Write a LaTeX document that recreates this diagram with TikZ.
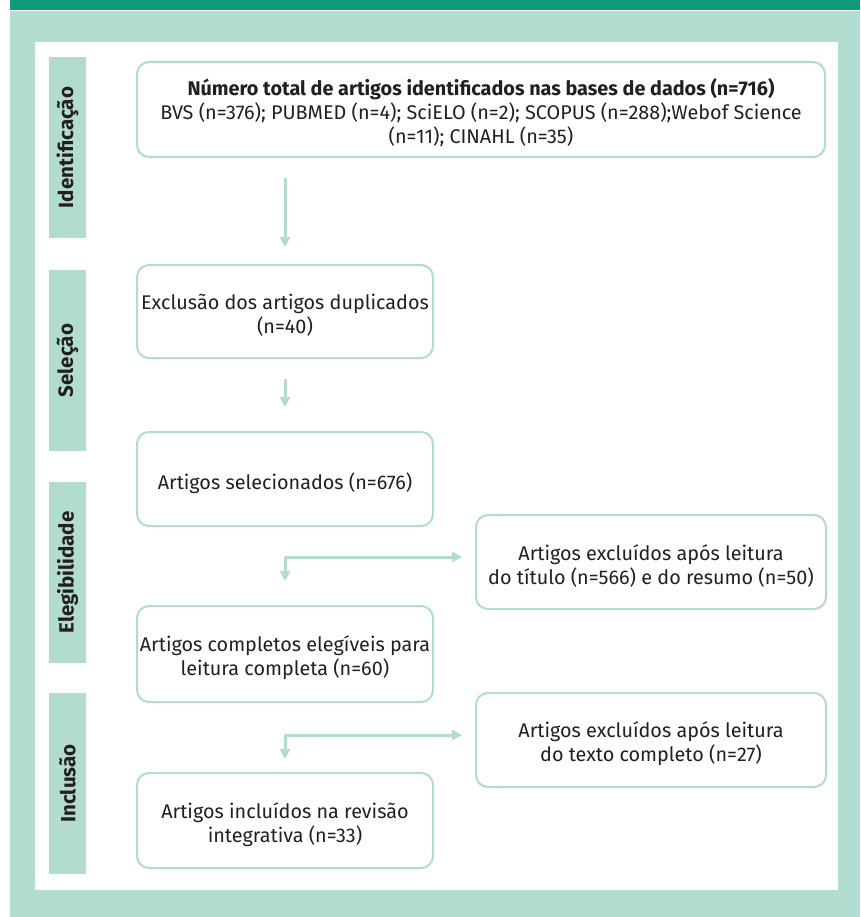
\documentclass[tikz,border=0pt]{standalone}
\usepackage{fontspec}
\setmainfont{Fira Sans}
\usetikzlibrary{arrows.meta}
\definecolor{darkgr}{HTML}{109A77}
\definecolor{lightgr}{HTML}{B2DCD0}
\definecolor{txt}{HTML}{231F20}
\begin{document}
\begin{tikzpicture}[x=1pt,y=-1pt,
  box/.style={draw=lightgr, line width=2pt, rounded corners=12pt, fill=white, inner sep=0pt},
  boxtext/.style={align=center, text=txt, font=\fontsize{19.8}{24}\selectfont, inner sep=0pt, yshift=-4pt},
  phase/.style={fill=lightgr, minimum width=37pt, inner sep=0pt},
  phaselabel/.style={rotate=90, font=\bfseries\fontsize{20.5}{22}\selectfont, text=txt},
  arr/.style={draw=lightgr, line width=3pt, -{Triangle[length=10pt,width=10pt]}}]
\useasboundingbox (0,0) rectangle (860,917);
% background
\fill[darkgr] (10,0) rectangle (860,10);
\fill[lightgr] (10,11) rectangle (860,917);
\fill[white] (35,42) rectangle (838,890);
% phase bars
\node[phase, minimum height=181pt] (p1) at (67.5,147.5) {};
\node[phaselabel] (l1) at (p1) {Identificação};
\node[phase, minimum height=181pt] (p2) at (67.5,360.5) {};
\node[phaselabel] (l2) at (p2) {Seleção};
\node[phase, minimum height=181pt] (p3) at (67.5,572.5) {};
\node[phaselabel] (l3) at (p3) {Elegibilidade};
\node[phase, minimum height=181pt] (p4) at (67.5,783.5) {};
\node[phaselabel] (l4) at (p4) {Inclusão};
% boxes
\node[box, minimum width=688pt, minimum height=95pt] (b1) at (481,109.5) {};
\node[boxtext, yshift=1pt] (t1) at (b1)
  {\textbf{Número total de artigos identificados nas bases de dados (n=716)}\\
   BVS (n=376); PUBMED (n=4); SciELO (n=2); SCOPUS (n=288);Webof Science\\
   (n=11); CINAHL (n=35)};
\node[box, minimum width=296pt, minimum height=93pt] (b2) at (285,311.5) {};
\node[boxtext] (t2) at (b2) {Exclusão dos artigos duplicados\\(n=40)};
\node[box, minimum width=296pt, minimum height=94pt] (b3) at (285,479) {};
\node[boxtext] (t3) at (b3) {Artigos selecionados (n=676)};
\node[box, minimum width=350pt, minimum height=94pt] (b4) at (651,562) {};
\node[boxtext] (t4) at (b4) {Artigos excluídos após leitura\\do título (n=566) e do resumo (n=50)};
\node[box, minimum width=296pt, minimum height=96pt] (b5) at (285,654) {};
\node[boxtext] (t5) at (b5) {Artigos completos elegíveis para\\leitura completa (n=60)};
\node[box, minimum width=350pt, minimum height=94pt] (b6) at (651,740) {};
\node[boxtext] (t6) at (b6) {Artigos excluídos após leitura\\do texto completo (n=27)};
\node[box, minimum width=296pt, minimum height=95pt] (b7) at (285,820.5) {};
\node[boxtext] (t7) at (b7) {Artigos incluídos na revisão\\integrativa (n=33)};
% connectors
\draw[arr, shorten <=20pt, shorten >=17pt] (b2.north |- b1.south) -- (b2.north);
\draw[arr, shorten <=20pt, shorten >=24pt] (b2.south) -- (b3.north);
\coordinate (j1) at (285,557);
\draw[arr, shorten >=13pt] (j1) -- (j1 -| b4.west);
\draw[arr, shorten >=24pt] (j1) -- (b5.north);
\coordinate (j2) at (285,735);
\draw[arr, shorten >=13pt] (j2) -- (j2 -| b6.west);
\draw[arr, shorten >=13pt] (j2) -- (b7.north);
\end{tikzpicture}
\end{document}
